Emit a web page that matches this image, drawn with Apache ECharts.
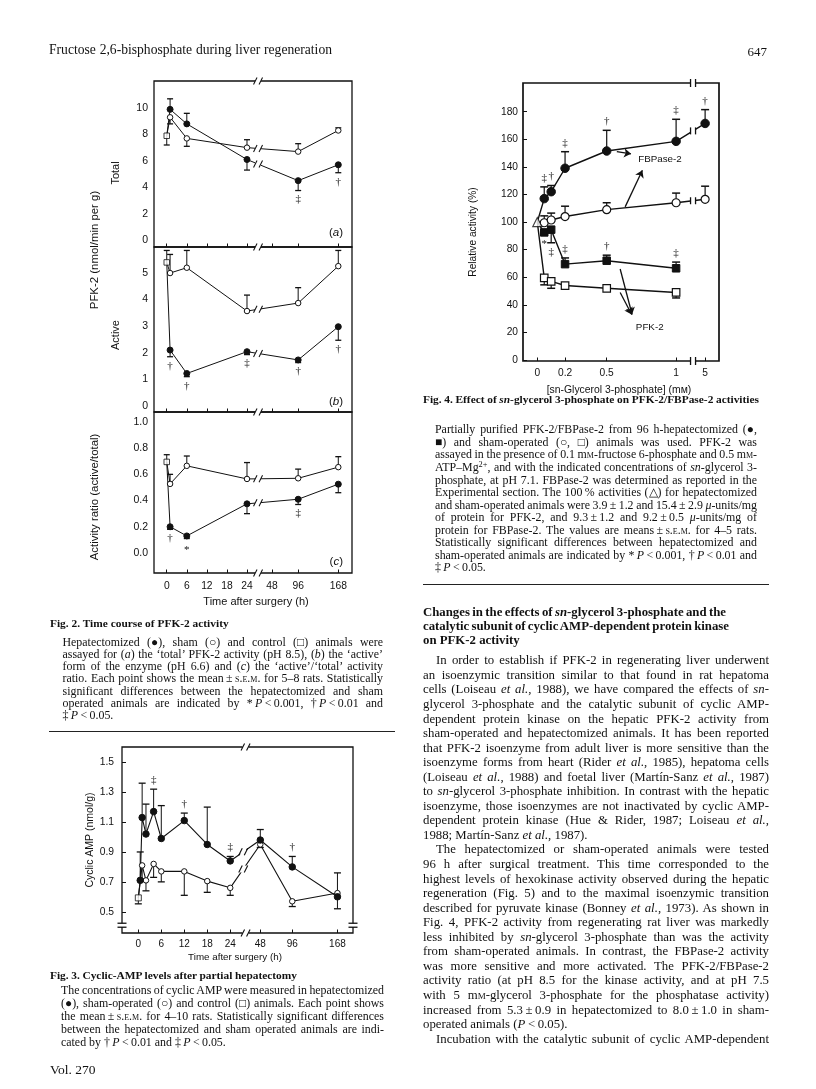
<!DOCTYPE html>
<html>
<head>
<meta charset="utf-8">
<script src="https://cdn.jsdelivr.net/npm/echarts@6/dist/echarts.min.js"></script>
<style>
html, body { margin: 0; padding: 0; background: #fff; }
#page { position: relative; width: 816px; height: 1089px; overflow: hidden; color: #111;
  font-family: "Liberation Serif", "Times New Roman", serif; }
#chart { position: absolute; left: 0; top: 0; width: 816px; height: 1089px; }
#text { position: absolute; left: 0; top: 0; width: 816px; height: 1089px; }
.ln { position: absolute; white-space: nowrap; }
.sc { font-variant: small-caps; }
.sup { font-size: 0.7em; position: relative; top: -0.45em; line-height: 0; }
.rule { position: absolute; height: 1px; background: #222; }
</style>
</head>
<body>
<div id="page">
  <div id="chart"></div>
  <div id="text"></div>
</div>
<script>
// ---- Fig. 2: PFK-2 activity, hours after surgery ----
const fig2Hours = [1, 6, 24, 96, 168];
const fig2TickHours = [0, 6, 12, 18, 24, 48, 96, 168];

const totalCtrl = 7.9, totalCtrlErr = 7.2;
const totalHep = [9.9, 8.8, 6.1, 4.5, 5.7];
const totalHepErr = [10.7, 9.6, 5.3, 3.75, 5.1];
const totalHepSig = ['', '', '', '‡', '†'];
const totalSham = [9.3, 7.7, 7.0, 6.7, 8.3];
const totalShamErr = [8.8, 7.1, 7.6, 7.3, 8.5];
const totalTicks = [0, 2, 4, 6, 8, 10];

const activeCtrl = 5.4, activeCtrlErr = 5.85;
const activeHep = [2.1, 1.22, 2.04, 1.73, 2.98];
const activeHepErr = [1.85, 1.1, 1.93, 1.63, 2.47];
const activeHepSig = ['†', '†', '‡', '†', '†'];
const activeSham = [5.0, 5.2, 3.57, 3.87, 5.26];
const activeShamErr = [5.7, 5.85, 4.17, 4.45, 5.85];
const activeTicks = [0, 1, 2, 3, 4, 5];

const ratioCtrl = 0.695, ratioCtrlErr = 0.75;
const ratioHep = [0.2, 0.13, 0.375, 0.41, 0.525];
const ratioHepErr = [0.18, 0.11, 0.3, 0.37, 0.46];
const ratioHepSig = ['†', '*', '', '‡', ''];
const ratioSham = [0.527, 0.665, 0.565, 0.57, 0.655];
const ratioShamErr = [0.6, 0.74, 0.69, 0.64, 0.735];
const ratioTicks = [0, 0.2, 0.4, 0.6, 0.8, 1.0];

// ---- Fig. 3: cyclic AMP ----
const campHepHours = [0.5, 1, 2, 4, 6, 12, 18, 24, 48, 96, 168];
const campHep = [0.71, 1.13, 1.02, 1.17, 0.99, 1.11, 0.95, 0.84, 0.98, 0.80, 0.60];
const campHepErr = [0.90, 1.36, 1.22, 1.32, 1.21, 1.16, 1.20, 0.87, 1.05, 0.87, 0.52];
const campHepSig = ['', '', '', '‡', '', '†', '', '‡', '', '†', ''];
const campShamHours = [1, 2, 4, 6, 12, 18, 24, 48, 96, 168];
const campSham = [0.81, 0.71, 0.82, 0.77, 0.77, 0.705, 0.66, 0.95, 0.57, 0.625];
const campShamErr = [0.72, 0.64, 0.73, 0.70, 0.61, 0.63, 0.61, 0.93, 0.535, 0.76];
const campCtrl = 0.593, campCtrlErr = 0.553;
const campTicks = [0.5, 0.7, 0.9, 1.1, 1.3, 1.5];

// ---- Fig. 4: sn-glycerol 3-phosphate (mM) ----
const fbpConc = [0.05, 0.1, 0.2, 0.5, 1, 5];
const fbpHep = [117, 122, 139, 151.5, 158.5, 171.5];
const fbpHepErr = [125.5, 126.5, 151, 166.5, 174.5, 181.5];
const fbpHepSig = ['‡', '†', '‡', '†', '‡', '†'];
const fbpSham = [99.5, 101.5, 104, 109, 114, 116.5];
const fbpShamErr = [104.5, 106.5, 111.5, 114, 121, 126];
const pfkConc = [0.05, 0.1, 0.2, 0.5, 1];
const pfkHep = [92.5, 94.5, 69.5, 72, 66.5];
const pfkHepErr = [null, 85, 74, 76, 71];
const pfkHepSig = ['*', '‡', '‡', '†', '‡'];
const pfkHepSigSide = [1, 1, -1, -1, -1];
const pfkSham = [59.5, 57, 54, 52, 49];
const pfkShamErr = [54.5, 52, null, null, 45];
const baseActivity = [0, 100];
const concTicks = [0, 0.2, 0.5, 1, 5];
const relTicks = [0, 20, 40, 60, 80, 100, 120, 140, 160, 180];
const fig4Arrows = [
  [[0.573, 151], [0.675, 149.5]],
  [[0.633, 111], [0.757, 137.5]],
  [[0.597, 66], [0.683, 33]],
  [[0.597, 49], [0.68, 33]]
];

const C = '#111';
const SANS = '"Liberation Sans", Arial, sans-serif';
const SERIF = '"Liberation Serif", "Times New Roman", serif';

// broken time axes: linear up to the first anchor, compressed after it
function makeWarp(inA, outA) {
  return t => {
    if (t <= inA[0]) return t;
    for (let i = 1; i < inA.length; i++) {
      if (t <= inA[i]) {
        const f = (t - inA[i - 1]) / (inA[i] - inA[i - 1]);
        return outA[i - 1] + f * (outA[i] - outA[i - 1]);
      }
    }
    return outA[outA.length - 1];
  };
}
const warp2 = makeWarp([24, 48, 96, 168], [24, 31.5, 39.3, 51.3]);
const warp3 = makeWarp([24, 48, 96, 168], [24, 31.85, 40.2, 52]);
const warp4 = makeWarp([1, 5], [1, 1.209]);

const grids = [
  { left: 154, top: 81, width: 198, height: 166 },
  { left: 154, top: 247, width: 198, height: 165 },
  { left: 154, top: 412, width: 198, height: 161 },
  { left: 122, top: 747, width: 231, height: 186 },
  { left: 523, top: 83, width: 196, height: 278 }
];

function xAx(gi, min, max, ticks, warpFn, showLabel, fs, margin) {
  const vals = ticks.map(warpFn);
  return {
    type: 'value', gridIndex: gi, min, max, position: 'bottom',
    axisLine: { show: false, onZero: false }, splitLine: { show: false },
    axisTick: { show: true, inside: true, length: 3.5, customValues: vals, lineStyle: { color: C, width: 1 } },
    axisLabel: {
      show: showLabel, customValues: vals, margin: margin || 7, color: C, fontSize: fs || 10, fontFamily: SANS,
      formatter: v => { const i = vals.findIndex(a => Math.abs(a - v) < 1e-6); return i >= 0 ? String(ticks[i]) : ''; }
    }
  };
}
function yAx(gi, min, max, ticks, dec, showTick, fs, margin) {
  return {
    type: 'value', gridIndex: gi, min, max, position: 'left',
    axisLine: { show: false, onZero: false }, splitLine: { show: false },
    axisTick: { show: showTick, inside: true, length: 4, customValues: ticks, lineStyle: { color: C, width: 1 } },
    axisLabel: {
      customValues: ticks, margin, color: C, fontSize: fs, fontFamily: SANS,
      formatter: v => dec ? v.toFixed(dec) : String(v)
    }
  };
}

const series = [];
function addLine(gi, xs, ys, start, o) {
  const data = [];
  if (start) data.push({ value: start, symbol: 'none' });
  xs.forEach((x, i) => data.push([x, ys[i]]));
  series.push({
    type: 'line', xAxisIndex: gi, yAxisIndex: gi, data, z: 4,
    symbol: o.symbol, symbolSize: o.size, showAllSymbol: true, silent: true,
    lineStyle: { color: C, width: o.lw },
    itemStyle: { color: o.filled ? C : '#fff', borderColor: C, borderWidth: o.bw || 1 },
    emphasis: { disabled: true }
  });
}
function addPoint(gi, pt, o, extra) {
  series.push(Object.assign({
    type: 'scatter', xAxisIndex: gi, yAxisIndex: gi, data: [pt], z: 5, silent: true,
    symbol: o.symbol, symbolSize: o.size,
    itemStyle: { color: '#fff', borderColor: C, borderWidth: o.bw || 1 }
  }, extra || {}));
}
function addErr(gi, xs, ys, es, cap, lw) {
  const data = [];
  xs.forEach((x, i) => { if (es[i] != null) data.push([x, ys[i], es[i]]); });
  series.push({
    type: 'custom', xAxisIndex: gi, yAxisIndex: gi, data, z: 3, silent: true,
    encode: { x: 0, y: [1, 2] },
    renderItem(params, api) {
      const p0 = api.coord([api.value(0), api.value(1)]);
      const p1 = api.coord([api.value(0), api.value(2)]);
      return { type: 'group', children: [
        { type: 'line', shape: { x1: p0[0], y1: p0[1], x2: p1[0], y2: p1[1] }, style: { stroke: C, lineWidth: lw } },
        { type: 'line', shape: { x1: p1[0] - cap, y1: p1[1], x2: p1[0] + cap, y2: p1[1] }, style: { stroke: C, lineWidth: lw + 0.3 } }
      ] };
    }
  });
}
function addSig(gi, xs, ys, es, sig, side, fs, off) {
  const items = [];
  xs.forEach((x, i) => {
    if (!sig[i]) return;
    const dir = Array.isArray(side) ? side[i] : side;
    const e = es[i] == null ? ys[i] : es[i];
    items.push({ value: [x, dir > 0 ? Math.min(ys[i], e) : Math.max(ys[i], e)], ch: sig[i], dir });
  });
  series.push({
    type: 'custom', xAxisIndex: gi, yAxisIndex: gi, data: items.map(d => d.value), z: 6, silent: true,
    renderItem(params, api) {
      const it = items[params.dataIndex];
      const p = api.coord([api.value(0), api.value(1)]);
      const y = p[1] + it.dir * off + (it.ch === '*' ? 3 : 0);
      return { type: 'text', style: { text: it.ch, x: p[0], y, fill: C, font: fs + 'px ' + SERIF,
        textAlign: 'center', textVerticalAlign: 'middle', align: 'center', verticalAlign: 'middle' } };
    }
  });
}

// Fig. 2 panels
const fig2Panels = [
  [totalCtrl, totalCtrlErr, totalHep, totalHepErr, totalHepSig, totalSham, totalShamErr],
  [activeCtrl, activeCtrlErr, activeHep, activeHepErr, activeHepSig, activeSham, activeShamErr],
  [ratioCtrl, ratioCtrlErr, ratioHep, ratioHepErr, ratioHepSig, ratioSham, ratioShamErr]
];
const fx2 = fig2Hours.map(warp2);
fig2Panels.forEach((p, gi) => {
  const [ctrl, ctrlErr, hep, hepErr, hepSig, sham, shamErr] = p;
  addErr(gi, fx2, hep, hepErr, 3, 1);
  addErr(gi, fx2, sham, shamErr, 3, 1);
  addErr(gi, [0], [ctrl], [ctrlErr], 3, 1);
  addLine(gi, fx2, sham, [0, ctrl], { symbol: 'circle', size: 5.5, lw: 1, filled: false });
  addLine(gi, fx2, hep, [0, ctrl], { symbol: 'circle', size: 6, lw: 1, filled: true });
  addPoint(gi, [0, ctrl], { symbol: 'rect', size: 5.5 });
  addSig(gi, fx2, hep, hepErr, hepSig, 1, 11, 9);
});

// Fig. 3
const hx3 = campHepHours.map(warp3), sx3 = campShamHours.map(warp3);
addErr(3, hx3, campHep, campHepErr, 3.5, 1);
addErr(3, sx3, campSham, campShamErr, 3.5, 1);
addErr(3, [0], [campCtrl], [campCtrlErr], 3.5, 1);
addLine(3, sx3, campSham, [0, campCtrl], { symbol: 'circle', size: 5.5, lw: 1.1, filled: false });
addLine(3, hx3, campHep, [0, campCtrl], { symbol: 'circle', size: 6.5, lw: 1.1, filled: true });
addPoint(3, [0, campCtrl], { symbol: 'rect', size: 6 });
addSig(3, hx3, campHep, campHepErr, campHepSig, -1, 11, 9);

// Fig. 4
const cf = fbpConc.map(warp4), cp = pfkConc.map(warp4);
addErr(4, cf, fbpHep, fbpHepErr, 4, 1.2);
addErr(4, cf, fbpSham, fbpShamErr, 4, 1.2);
addErr(4, cp, pfkHep, pfkHepErr, 4, 1.2);
addErr(4, cp, pfkSham, pfkShamErr, 4, 1.2);
addLine(4, cf, fbpSham, baseActivity, { symbol: 'circle', size: 8, lw: 1.4, filled: false, bw: 1.2 });
addLine(4, cf, fbpHep, baseActivity, { symbol: 'circle', size: 8.5, lw: 1.4, filled: true });
addLine(4, cp, pfkSham, baseActivity, { symbol: 'rect', size: 7.5, lw: 1.4, filled: false, bw: 1.2 });
addLine(4, cp, pfkHep, baseActivity, { symbol: 'rect', size: 7.5, lw: 1.4, filled: true });
addPoint(4, baseActivity, { symbol: 'triangle', size: 9, bw: 1.2 }, {
  markLine: {
    silent: true, animation: false, symbol: ['none', 'arrow'], symbolSize: 7,
    lineStyle: { type: 'solid', color: C, width: 1.3 }, label: { show: false }, emphasis: { disabled: true },
    data: fig4Arrows.map(a => [{ coord: a[0] }, { coord: a[1] }])
  }
});
addSig(4, cf, fbpHep, fbpHepErr, fbpHepSig, -1, 11, 9);
addSig(4, cp, pfkHep, pfkHepErr, pfkHepSig, pfkHepSigSide, 11, 9);

const chart = echarts.init(document.getElementById('chart'));
chart.setOption({
  animation: false,
  grid: grids.map((g, i) => Object.assign({ show: true, borderColor: C, borderWidth: i === 4 ? 1.7 : 1.3,
    backgroundColor: 'transparent', containLabel: false, outerBoundsMode: 'none' }, g)),
  xAxis: [
    xAx(0, -3.81, 55.4, fig2TickHours, warp2, false),
    xAx(1, -3.81, 55.4, fig2TickHours, warp2, false),
    xAx(2, -3.81, 55.4, fig2TickHours, warp2, true, 10.3, 8),
    xAx(3, -4.26, 56.06, fig2TickHours, warp3, true, 10, 6),
    xAx(4, -0.103, 1.309, concTicks, warp4, true, 10.2, 7)
  ],
  yAxis: [
    yAx(0, -0.53, 12.05, totalTicks, 0, false, 10.5, 6),
    yAx(1, -0.23, 5.98, activeTicks, 0, false, 10.5, 6),
    yAx(2, -0.153, 1.076, ratioTicks, 1, false, 10.5, 6),
    yAx(3, 0.358, 1.602, campTicks, 1, true, 10.3, 8),
    yAx(4, -0.7, 200.8, relTicks, 0, true, 10.2, 5)
  ],
  series
});

// ---- decorations: axis breaks, titles, labels ----
const g = [];
const px = (gi, u, v) => chart.convertToPixel({ gridIndex: gi }, [u, v]);
const ln = (x1, y1, x2, y2, w) => g.push({ type: 'line', z: 101, silent: true,
  shape: { x1, y1, x2, y2 }, style: { stroke: C, lineWidth: w || 1.1 } });
const white = (x, y, w, h) => g.push({ type: 'rect', z: 100, silent: true,
  shape: { x, y, width: w, height: h }, style: { fill: '#fff' } });
function slashes(x, y) {
  white(x - 3, y - 3.5, 6, 7);
  ln(x - 4.5, y + 3.5, x - 1, y - 3.5);
  ln(x + 1, y + 3.5, x + 4.5, y - 3.5);
}
function bars(x, y, h) {
  white(x - 2.2, y - 3, 4.4, 6);
  ln(x - 2.5, y - h, x - 2.5, y + h, 1.3);
  ln(x + 2.5, y - h, x + 2.5, y + h, 1.3);
}
function eqs(x, y) {
  white(x - 4, y - 1.8, 8, 3.6);
  ln(x - 4.5, y - 2, x + 4.5, y - 2, 1.3);
  ln(x - 4.5, y + 2, x + 4.5, y + 2, 1.3);
}
function lineBreak(gi, xs, ys, i, u, fn) {
  const f = (u - xs[i]) / (xs[i + 1] - xs[i]);
  const p = px(gi, u, ys[i] + f * (ys[i + 1] - ys[i]));
  fn(p[0], p[1], 3.5);
}
function txt(text, x, y, fs, o) {
  o = o || {};
  g.push({ type: 'text', z: 102, silent: true, x, y, rotation: o.rot ? Math.PI / 2 : 0,
    style: { text, fill: C, font: fs + 'px ' + SANS,
      textAlign: o.align || 'center', textVerticalAlign: 'middle', align: o.align || 'center', verticalAlign: 'middle',
      rich: o.rich } });
}

// Fig. 2 breaks
const bx2 = px(0, 27.3, 0)[0];
[81, 247, 412, 573].forEach(y => slashes(bx2, y));
fig2Panels.forEach((p, gi) => {
  lineBreak(gi, fx2, p[2], 2, 27.3, slashes);
  lineBreak(gi, fx2, p[5], 2, 27.3, slashes);
});
// Fig. 3 breaks
const bx3 = px(3, 28, 0.5)[0];
slashes(bx3, 747); slashes(bx3, 933);
const by3 = px(3, 0, 0.41)[1];
eqs(122, by3); eqs(353, by3);
lineBreak(3, hx3, campHep, 7, 27.4, slashes);
lineBreak(3, sx3, campSham, 6, 27.4, slashes);
// Fig. 4 breaks
const bx4 = px(4, 1.122, 0)[0];
bars(bx4, 83, 4); bars(bx4, 361, 4);
lineBreak(4, cf, fbpHep, 4, 1.122, bars);
lineBreak(4, cf, fbpSham, 4, 1.122, bars);

// axis titles and panel labels
txt('Total', 116, 173, 11, { rot: true });
txt('Active', 116, 335, 11, { rot: true });
txt('PFK-2 (nmol/min per g)', 95, 250, 11.4, { rot: true });
txt('Activity ratio (active/total)', 95, 497, 11.4, { rot: true });
['a', 'b', 'c'].forEach((l, i) => {
  txt('({i|' + l + '})', 343, [233, 402, 562][i], 11.5,
    { align: 'right', rich: { i: { fontStyle: 'italic', fontSize: 11.5, fontFamily: SANS } } });
});
txt('Time after surgery (h)', 256, 602, 11);
txt('Cyclic AMP (nmol/g)', 90, 840, 10.5, { rot: true });
txt('Time after surgery (h)', 235, 957, 9.8);
txt('Relative activity (%)', 473, 232, 10.2, { rot: true });
txt('[sn-Glycerol 3-phosphate] (mᴍ)', 619, 390, 10.4);
const lf = px(4, 0.727, 145.8), lp = px(4, 0.71, 23.8);
txt('FBPase-2', lf[0], lf[1], 9.8, { align: 'left' });
txt('PFK-2', lp[0], lp[1], 9.8, { align: 'left' });

chart.setOption({ graphic: { elements: g } });

// ---- page text ----
const root = document.getElementById('text');
function put(html, x, yc, size, o) {
  o = o || {};
  const d = document.createElement('div');
  d.className = 'ln';
  d.style.left = x + 'px';
  d.style.top = (yc - size * 0.6) + 'px';
  d.style.fontSize = size + 'px';
  d.style.lineHeight = (size * 1.2) + 'px';
  d.style.height = (size * 1.2) + 'px';
  if (o.bold) d.style.fontWeight = 'bold';
  const s = document.createElement('span');
  s.innerHTML = html;
  d.appendChild(s);
  root.appendChild(d);
  if (o.width) {
    const nat = s.getBoundingClientRect().width;
    const spaces = (s.textContent.match(/ /g) || []).length;
    if (spaces) s.style.wordSpacing = ((o.width - nat) / spaces) + 'px';
  }
  if (o.right) d.style.left = (o.right - s.getBoundingClientRect().width) + 'px';
}
function para(lines, x, right, y0, dy, size, o) {
  o = o || {};
  lines.forEach((l, i) => {
    const ind = (i === 0 && o.indent) ? o.indent : 0;
    const ragged = o.ragged !== false && i === lines.length - 1;
    put(l, x + ind, y0 + i * dy, size, { width: ragged ? null : right - x - ind, bold: o.bold });
  });
}
function rule(x1, x2, y) {
  const r = document.createElement('div');
  r.className = 'rule';
  r.style.left = x1 + 'px'; r.style.top = y + 'px'; r.style.width = (x2 - x1) + 'px';
  root.appendChild(r);
}
const SEM = '<span class="sc">s.e.m.</span>';
const MM = 'm<span class="sc">m</span>';
const EA = '<i>et al.</i>';
const PM = '&#8201;±&#8201;';
const CAP = 11.9;
const TITLE = 11.4;

put('Fructose 2,6-bisphosphate during liver regeneration', 49, 50, 13.6, { width: 283 });
put('647', 0, 52, 13, { right: 767 });
put('Vol. 270', 50, 1070, 13.5);

put('Fig. 2. Time course of PFK-2 activity', 50, 624, TITLE, { bold: true });
para([
  'Hepatectomized (●), sham (○) and control (□) animals were',
  'assayed for (<i>a</i>) the ‘total’ PFK-2 activity (pH 8.5), (<i>b</i>) the ‘active’',
  'form of the enzyme (pH 6.6) and (<i>c</i>) the ‘active’/‘total’ activity',
  'ratio. Each point shows the mean' + PM + SEM + ' for 5–8 rats. Statistically',
  'significant differences between the hepatectomized and sham',
  'operated animals are indicated by *&#8201;<i>P</i>&#8201;&lt;&#8201;0.001, †&#8201;<i>P</i>&#8201;&lt;&#8201;0.01 and',
  '‡&#8201;<i>P</i>&#8201;&lt;&#8201;0.05.'
], 62.5, 383, 642, 12.17, CAP);
rule(49, 395, 730.5);

put('Fig. 3. Cyclic-AMP levels after partial hepatectomy', 50, 976, TITLE, { bold: true, width: 247 });
para([
  'The concentrations of cyclic AMP were measured in hepatectomized',
  '(●), sham-operated (○) and control (□) animals. Each point shows',
  'the mean' + PM + SEM + ' for 4–10 rats. Statistically significant differences',
  'between the hepatectomized and sham operated animals are indi-',
  'cated by †&#8201;<i>P</i>&#8201;&lt;&#8201;0.01 and ‡&#8201;<i>P</i>&#8201;&lt;&#8201;0.05.'
], 61, 384, 990, 13, CAP);

put('Fig. 4. Effect of <i>sn</i>-glycerol 3-phosphate on PFK-2/FBPase-2 activities', 423, 400, TITLE, { bold: true, width: 336 });
para([
  'Partially purified PFK-2/FBPase-2 from 96 h-hepatectomized (●,',
  '■) and sham-operated (○, □) animals was used. PFK-2 was',
  'assayed in the presence of 0.1 ' + MM + '-fructose 6-phosphate and 0.5 ' + MM + '-',
  'ATP–Mg<span class="sup">2+</span>, and with the indicated concentrations of <i>sn</i>-glycerol 3-',
  'phosphate, at pH 7.1. FBPase-2 was determined as reported in the',
  'Experimental section. The 100&#8201;% activities (△) for hepatectomized',
  'and sham-operated animals were 3.9' + PM + '1.2 and 15.4' + PM + '2.9 <i>μ</i>-units/mg',
  'of protein for PFK-2, and 9.3' + PM + '1.2 and 9.2' + PM + '0.5 <i>μ</i>-units/mg of',
  'protein for FBPase-2. The values are means' + PM + SEM + ' for 4–5 rats.',
  'Statistically significant differences between hepatectomized and',
  'sham-operated animals are indicated by *&#8201;<i>P</i>&#8201;&lt;&#8201;0.001, †&#8201;<i>P</i>&#8201;&lt;&#8201;0.01 and',
  '‡&#8201;<i>P</i>&#8201;&lt;&#8201;0.05.'
], 435, 757, 429.5, 12.55, CAP);
rule(423, 769, 584);

put('Changes in the effects of <i>sn</i>-glycerol 3-phosphate and the', 423, 613, 12.8, { bold: true, width: 303 });
put('catalytic subunit of cyclic AMP-dependent protein kinase', 423, 627, 12.8, { bold: true, width: 306 });
put('on PFK-2 activity', 423, 641, 12.8, { bold: true });

const bodyA = [
  'In order to establish if PFK-2 in regenerating liver underwent',
  'an isoenzymic transition similar to that found in rat hepatoma',
  'cells (Loiseau ' + EA + ', 1988), we have compared the effects of <i>sn</i>-',
  'glycerol 3-phosphate and the catalytic subunit of cyclic AMP-',
  'dependent protein kinase on the hepatic PFK-2 activity from',
  'sham-operated and hepatectomized animals. It has been reported',
  'that PFK-2 isoenzyme from adult liver is more sensitive than the',
  'isoenzyme forms from heart (Rider ' + EA + ', 1985), hepatoma cells',
  '(Loiseau ' + EA + ', 1988) and foetal liver (Martín-Sanz ' + EA + ', 1987)',
  'to <i>sn</i>-glycerol 3-phosphate inhibition. In contrast with the hepatic',
  'isoenzyme, those isoenzymes are not inactivated by cyclic AMP-',
  'dependent protein kinase (Hue &amp; Rider, 1987; Loiseau ' + EA + ',',
  '1988; Martín-Sanz ' + EA + ', 1987).'
];
const bodyB = [
  'The hepatectomized or sham-operated animals were tested',
  '96 h after surgical treatment. This time corresponded to the',
  'highest levels of hexokinase activity observed during the hepatic',
  'regeneration (Fig. 5) and to the maximal isoenzymic transition',
  'described for pyruvate kinase (Bonney ' + EA + ', 1973). As shown in',
  'Fig. 4, PFK-2 activity from regenerating rat liver was markedly',
  'less inhibited by <i>sn</i>-glycerol 3-phosphate than was the activity',
  'from sham-operated animals. In contrast, the FBPase-2 activity',
  'was more sensitive and more activated. The PFK-2/FBPase-2',
  'activity ratio (at pH 8.5 for the kinase activity, and at pH 7.5',
  'with 5 ' + MM + '-glycerol 3-phosphate for the phosphatase activity)',
  'increased from 5.3' + PM + '0.9 in hepatectomized to 8.0' + PM + '1.0 in sham-',
  'operated animals (<i>P</i>&#8201;&lt;&#8201;0.05).'
];
const bodyC = ['Incubation with the catalytic subunit of cyclic AMP-dependent'];
const bodyDy = 14.55;
para(bodyA, 423, 769, 661, bodyDy, 12.8, { indent: 13 });
para(bodyB, 423, 769, 661 + 13 * bodyDy, bodyDy, 12.8, { indent: 13 });
para(bodyC, 423, 769, 661 + 26 * bodyDy, bodyDy, 12.8, { indent: 13, ragged: false });
</script>
</body>
</html>
